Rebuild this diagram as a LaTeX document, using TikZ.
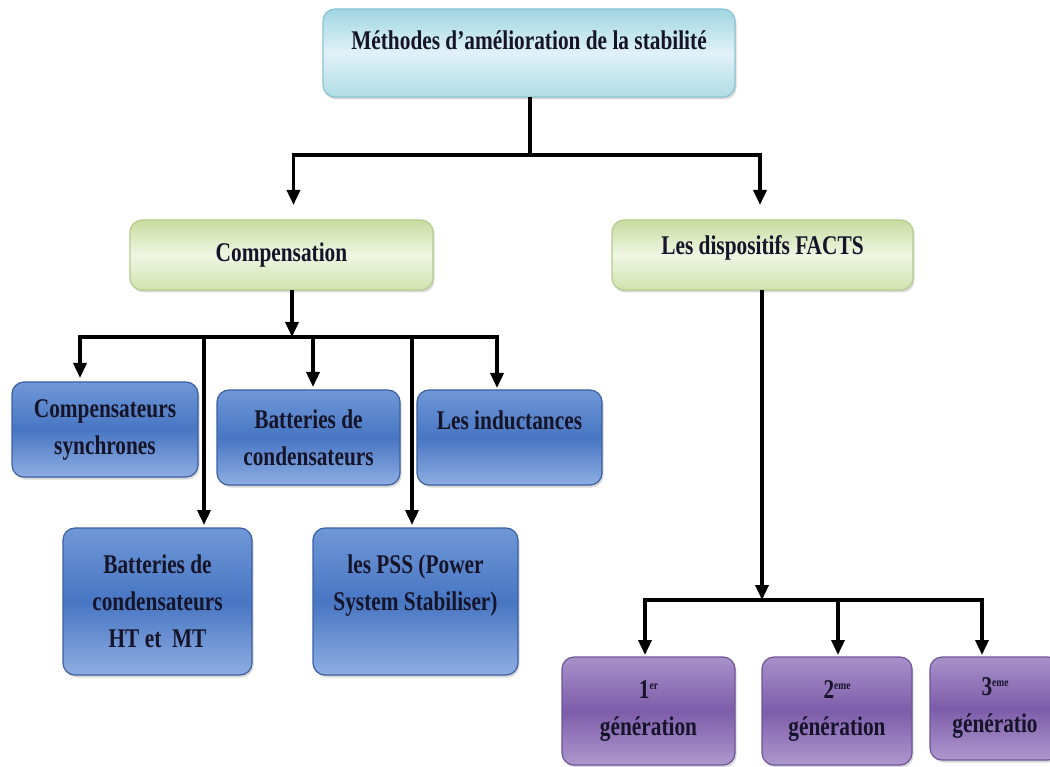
\documentclass[tikz,border=0pt]{standalone}
\usepackage{fontspec}
\setmainfont{Liberation Serif}[FakeStretch=0.79]
\usepackage{xcolor}
\usepackage{tikz}
\usetikzlibrary{arrows.meta, positioning, shadows}

\definecolor{txtdark}{RGB}{22,20,40}
\definecolor{cyanTop}{RGB}{160,214,226}
\definecolor{cyanMid}{RGB}{224,242,247}
\definecolor{cyanBot}{RGB}{176,220,230}
\definecolor{cyanEdge}{RGB}{140,195,210}
\definecolor{greenTop}{RGB}{200,220,160}
\definecolor{greenMid}{RGB}{239,246,227}
\definecolor{greenBot}{RGB}{208,226,174}
\definecolor{greenEdge}{RGB}{180,205,140}
\definecolor{blueTop}{RGB}{112,152,216}
\definecolor{blueMid}{RGB}{72,118,195}
\definecolor{blueBot}{RGB}{142,174,226}
\definecolor{blueEdge}{RGB}{60,95,160}
\definecolor{purpleTop}{RGB}{168,145,202}
\definecolor{purpleMid}{RGB}{125,92,170}
\definecolor{purpleBot}{RGB}{174,152,206}
\definecolor{purpleEdge}{RGB}{110,85,150}

\newcommand{\genexp}[1]{\raisebox{9pt}{\fontsize{12pt}{12pt}\selectfont #1}}

\tikzset{
  boxbase/.style={rounded corners=12pt, align=center, line width=1.2pt,
    text=txtdark, font=\bfseries\fontsize{27pt}{37pt}\selectfont,
    drop shadow={shadow xshift=1.5pt, shadow yshift=-2.5pt, opacity=0.3}},
  cyanbox/.style={boxbase, draw=cyanEdge, top color=cyanTop, bottom color=cyanBot, middle color=cyanMid},
  greenbox/.style={boxbase, draw=greenEdge, top color=greenTop, bottom color=greenBot, middle color=greenMid},
  bluebox/.style={boxbase, draw=blueEdge, top color=blueTop, bottom color=blueBot, middle color=blueMid},
  purplebox/.style={boxbase, draw=purpleEdge, top color=purpleTop, bottom color=purpleBot, middle color=purpleMid},
  linkwire/.style={line width=3.5pt},
  linkarrow/.style={line width=3.5pt, -{Triangle[width=13pt,length=15pt]}}
}

\begin{document}
\begin{tikzpicture}[x=1pt,y=-1pt,inner sep=0pt,outer sep=0pt]
\clip (0,0) rectangle (1050,767);

% boxes
\node[cyanbox, minimum width=412pt, minimum height=88pt, text depth=26pt] (meth) at (529,53) {Méthodes d’amélioration de la stabilité};
\node[greenbox, minimum width=303pt, minimum height=70pt] (comp) at (281.5,255) {Compensation};
\node[greenbox, minimum width=301pt, minimum height=70pt, text depth=20pt] (facts) at (762.5,255) {Les dispositifs FACTS};

\node[bluebox, minimum width=186pt, minimum height=95pt] (synch) at (105,429.5) {Compensateurs\\synchrones};
\node[bluebox, minimum width=183pt, minimum height=95pt] (batt) at (308.5,437.5) {Batteries de\\condensateurs};
\node[bluebox, minimum width=185pt, minimum height=95pt, text depth=34pt] (induc) at (509.5,437.5) {Les inductances};
\node[bluebox, minimum width=189pt, minimum height=147pt] (battHT) at (157.5,601.5) {Batteries de\\condensateurs\\HT et\ \ MT};
\node[bluebox, minimum width=205pt, minimum height=147pt, text depth=38pt] (pss) at (415.5,601.5) {les PSS (Power\\System Stabiliser)};

\node[purplebox, minimum width=173pt, minimum height=108pt] (gen1) at (648.5,711) {1\genexp{er}\\génération};
\node[purplebox, minimum width=150pt, minimum height=108pt] (gen2) at (837,711) {2\genexp{eme}\\génération};
\node[purplebox, minimum width=130pt, minimum height=103pt] (gen3) at (995,708.5) {3\genexp{eme}\\génératio};

% branching points
\coordinate (busA) at (530,155);
\coordinate (busB) at (292,337);
\coordinate (busC) at (762,600);

\draw[linkwire] (meth.south -| busA) -- (busA);
\draw[linkarrow] (busA) -| ([xshift=12pt,yshift=15pt]comp.north);
\draw[linkarrow] (busA) -| ([xshift=-2.5pt,yshift=15pt]facts.north);

\draw[linkarrow] (comp.south -| busB) -- (busB);
\draw[linkarrow] (busB) -| ([xshift=-25pt,yshift=4pt]synch.north);
\draw[linkarrow] (busB) -| ([xshift=46.5pt,yshift=3pt]battHT.north);
\draw[linkarrow] (busB) -| ([xshift=4.5pt,yshift=3pt]batt.north);
\draw[linkarrow] (busB) -| ([xshift=-3.5pt,yshift=3pt]pss.north);
\draw[linkarrow] (busB) -| ([xshift=-12.5pt,yshift=2pt]induc.north);

\draw[linkarrow] (facts.south -| busC) -- (busC);
\draw[linkarrow] (busC) -| ([xshift=-3.5pt,yshift=2pt]gen1.north);
\draw[linkarrow] (busC) -| ([xshift=1pt,yshift=2pt]gen2.north);
\draw[linkarrow] (busC) -| ([xshift=-13pt,yshift=2pt]gen3.north);
\end{tikzpicture}
\end{document}
